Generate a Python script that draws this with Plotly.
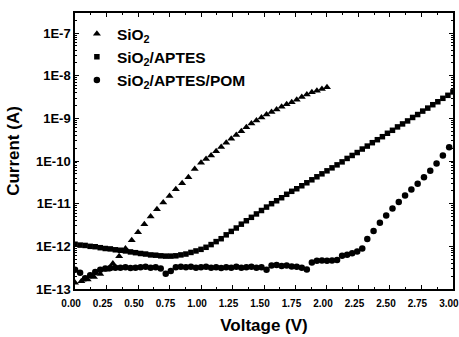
import plotly.graph_objects as go

# Sweep steps (V) for each measured series
STEP_SIO2_LOW, STEP_SIO2_HIGH = 0.05, 0.04
STEP_DENSE = 0.04
STEP_POM_RISE = 0.05

# SiO2: 0.00-1.00 V (0.05 V steps), then 1.04-2.00 V (0.04 V steps)
sio2_low_i = [1.41e-13, 1.51e-13, 1.66e-13, 1.91e-13, 2.24e-13, 2.82e-13, 3.98e-13,
              5.89e-13, 8.91e-13, 1.38e-12, 2.14e-12, 3.31e-12, 5.01e-12, 7.41e-12,
              1.07e-11, 1.51e-11, 2.19e-11, 3.02e-11, 4.17e-11, 6.46e-11, 9.12e-11]
sio2_high_i = [1.12e-10, 1.35e-10, 1.70e-10, 2.14e-10, 2.69e-10, 3.31e-10, 4.07e-10,
               5.01e-10, 6.17e-10, 7.59e-10, 8.91e-10, 1.05e-9, 1.23e-9, 1.41e-9,
               1.62e-9, 1.86e-9, 2.14e-9, 2.40e-9, 2.75e-9, 3.16e-9, 3.63e-9, 4.07e-9,
               4.47e-9, 4.90e-9, 5.37e-9]

# SiO2/APTES: 0.00-3.00 V (0.04 V steps)
aptes_i = [1.12e-12, 1.07e-12, 1.05e-12, 1.00e-12, 9.8e-13, 9.3e-13, 8.9e-13, 8.7e-13,
           8.3e-13, 8.1e-13, 7.8e-13, 7.4e-13, 7.1e-13, 6.8e-13, 6.6e-13, 6.3e-13,
           6.2e-13, 6.0e-13, 5.9e-13, 5.9e-13, 6.0e-13, 6.3e-13, 6.6e-13, 7.2e-13,
           7.8e-13, 8.5e-13, 9.5e-13, 1.10e-12, 1.29e-12, 1.51e-12, 1.86e-12, 2.24e-12,
           2.69e-12, 3.31e-12, 3.98e-12, 4.79e-12, 5.75e-12, 6.92e-12, 8.32e-12, 1.0e-11,
           1.17e-11, 1.38e-11, 1.66e-11, 1.95e-11, 2.24e-11, 2.63e-11, 3.09e-11, 3.63e-11,
           4.27e-11, 5.01e-11, 5.89e-11, 6.92e-11, 8.13e-11, 9.55e-11, 1.15e-10, 1.35e-10,
           1.58e-10, 1.91e-10, 2.24e-10, 2.69e-10, 3.16e-10, 3.72e-10, 4.47e-10, 5.25e-10,
           6.31e-10, 7.41e-10, 8.71e-10, 1.05e-9, 1.23e-9, 1.48e-9, 1.74e-9, 2.09e-9,
           2.45e-9, 2.95e-9, 3.47e-9, 4.17e-9]

# SiO2/APTES/POM: 0.00-2.28 V (0.04 V steps), then 2.32-2.97 V (0.05 V steps)
pom_flat_i = [2.82e-13, 2.40e-13, 1.78e-13, 2.09e-13, 2.51e-13, 2.82e-13, 3.02e-13,
              3.09e-13, 3.16e-13, 3.16e-13, 3.24e-13, 3.09e-13, 3.16e-13, 3.24e-13,
              3.31e-13, 3.16e-13, 3.24e-13, 3.02e-13, 2.29e-13, 2.63e-13, 3.24e-13,
              3.31e-13, 3.24e-13, 3.31e-13, 3.16e-13, 3.24e-13, 3.31e-13, 3.16e-13,
              3.24e-13, 3.09e-13, 3.24e-13, 3.16e-13, 3.31e-13, 3.16e-13, 3.24e-13,
              3.31e-13, 3.16e-13, 3.24e-13, 2.82e-13, 3.55e-13, 3.63e-13, 3.47e-13,
              3.55e-13, 3.39e-13, 3.31e-13, 3.16e-13, 2.88e-13, 4.17e-13, 4.57e-13,
              4.68e-13, 4.57e-13, 4.68e-13, 4.79e-13, 6.03e-13, 6.31e-13, 6.92e-13,
              7.59e-13, 8.91e-13]
pom_rise_i = [1.48e-12, 2.29e-12, 3.55e-12, 5.25e-12, 7.76e-12, 1.10e-11, 1.55e-11,
              2.14e-11, 2.95e-11, 4.17e-11, 5.89e-11, 8.71e-11, 1.35e-10, 2.09e-10]

x_ticks = [0.0, 0.25, 0.5, 0.75, 1.0, 1.25, 1.5, 1.75, 2.0, 2.25, 2.5, 2.75, 3.0]
x_ticktext = ["0.00", "0.25", "0.50", "0.75", "1.00", "1.25", "1.50", "1.75",
              "2.00", "2.25", "2.50", "2.75", "3.00"]
y_ticks = [1e-13, 1e-12, 1e-11, 1e-10, 1e-9, 1e-8, 1e-7]
y_ticktext = ["1E-13", "1E-12", "1E-11", "1E-10", "1E-9", "1E-8", "1E-7"]
y_minor_mult = [2, 3, 4, 5, 6, 7, 8, 9]

Y_RANGE = [-13, -6.53]


def sweep(start, step, n):
    return [round(start + k * step, 3) for k in range(n)]


sio2_v = sweep(0.0, STEP_SIO2_LOW, len(sio2_low_i)) + sweep(1.04, STEP_SIO2_HIGH, len(sio2_high_i))
sio2_i = sio2_low_i + sio2_high_i
aptes_v = sweep(0.0, STEP_DENSE, len(aptes_i))
pom_v = sweep(0.0, STEP_DENSE, len(pom_flat_i)) + sweep(2.32, STEP_POM_RISE, len(pom_rise_i))
pom_i = pom_flat_i + pom_rise_i

# minor ticks between the decades of the current axis
y_minor = [m * d for d in y_ticks for m in y_minor_mult if m * d < 10 ** Y_RANGE[1]]

FONT = "Liberation Sans, Arial, sans-serif"

fig = go.Figure()
fig.add_trace(go.Scatter(
    x=sio2_v, y=sio2_i, mode="markers", name="SiO<sub>2</sub>", legendgroup="a",
    marker=dict(symbol="triangle-up", size=7, color="black")))
fig.add_trace(go.Scatter(
    x=aptes_v, y=aptes_i, mode="markers", name="SiO<sub>2</sub>/APTES", legendgroup="b",
    marker=dict(symbol="square", size=5.5, color="black")))
fig.add_trace(go.Scatter(
    x=pom_v, y=pom_i, mode="markers", name="SiO<sub>2</sub>/APTES/POM", legendgroup="c",
    marker=dict(symbol="circle", size=6.5, color="black")))
# empty carrier so the overlaid minor-tick axis is laid out
fig.add_trace(go.Scatter(x=[None], y=[None], yaxis="y2", showlegend=False,
                         hoverinfo="skip", mode="markers"))

axis_common = dict(
    showline=True, linecolor="black", linewidth=1.5, mirror="ticks",
    ticks="inside", ticklen=4, tickwidth=1, tickcolor="black",
    showgrid=False, zeroline=False, ticklabeloverflow="allow", automargin=False,
)

fig.update_layout(
    width=459, height=337,
    margin=dict(l=75, r=6, t=13, b=48),
    paper_bgcolor="white", plot_bgcolor="white",
    font=dict(family=FONT, color="black", weight="bold"),
    showlegend=True,
    legend=dict(x=0.005, y=0.985, xanchor="left", yanchor="top",
                bgcolor="rgba(0,0,0,0)", borderwidth=0, tracegroupgap=0,
                font=dict(size=15.5, family=FONT, weight="bold")),
    xaxis=dict(
        range=[-0.0005, 3.0005], tickvals=x_ticks, ticktext=x_ticktext,
        tickfont=dict(size=10, family=FONT, weight="bold"),
        ticklabelshift=-4, ticklabelstandoff=4,
        minor=dict(ticks="inside", ticklen=2, tickcolor="black", dtick=0.125, tick0=0),
        title=dict(text="Voltage (V)", font=dict(size=17, family=FONT, weight="bold"),
                   standoff=11),
        **axis_common),
    yaxis=dict(
        type="log", range=Y_RANGE, tickvals=y_ticks, ticktext=y_ticktext,
        tickfont=dict(size=13, family=FONT, weight="bold"),
        title=dict(text="Current (A)", font=dict(size=17, family=FONT, weight="bold"),
                   standoff=12),
        **axis_common),
    yaxis2=dict(
        type="log", range=Y_RANGE, overlaying="y", side="left",
        tickmode="array", tickvals=y_minor, showticklabels=False,
        ticks="inside", ticklen=2, tickwidth=1, tickcolor="black",
        showline=False, mirror="ticks", showgrid=False, zeroline=False,
        automargin=False),
)

fig.write_html("out.html")
